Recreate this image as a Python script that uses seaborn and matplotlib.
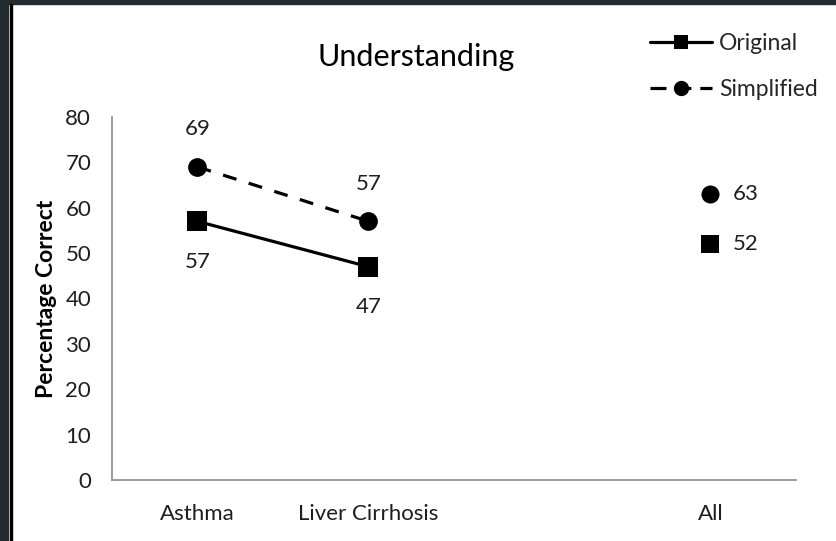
import matplotlib
matplotlib.use("Agg")
import matplotlib.pyplot as plt
from matplotlib.patches import Rectangle
from matplotlib.lines import Line2D
import numpy as np
import pandas as pd
import seaborn as sns

# Categories on the horizontal axis (third slot is an empty spacer)
categories = ["Asthma", "Liver Cirrhosis", "", "All"]
original = [57, 47, np.nan, 52]
simplified = [69, 57, np.nan, 63]
series_names = ["Original", "Simplified"]
y_ticks = [0, 10, 20, 30, 40, 50, 60, 70, 80]

rows = []
for name, vals in zip(series_names, [original, simplified]):
    for i, (cat, v) in enumerate(zip(categories, vals)):
        if not np.isnan(v):
            rows.append({"series": name, "category": cat, "pos": i, "value": v,
                         "group": "overall" if cat == "All" else "disease"})
df = pd.DataFrame(rows)

sns.set_theme(style="white")
plt.rcParams["font.family"] = ["Lato", "DejaVu Sans"]

fig = plt.figure(figsize=(8.37, 5.41), dpi=100)
ax = fig.add_axes([112 / 837, 61 / 541, 684 / 837, 363 / 541])

markers = {"Original": "s", "Simplified": "o"}
linestyles = {"Original": "-", "Simplified": (0, (4.4, 4.0))}
msize = {"Original": 14, "Simplified": 13.5}
text_color = "#1e1e1e"

disease = df[df["group"] == "disease"]
for name in series_names:
    sub = disease[disease["series"] == name]
    sns.lineplot(data=sub, x="pos", y="value", ax=ax, color="black",
                 linewidth=2.3, marker=markers[name], markersize=msize[name],
                 markeredgewidth=0, dashes=False, legend=False,
                 linestyle=linestyles[name])

overall = df[df["group"] == "overall"]
for name in series_names:
    sub = overall[overall["series"] == name]
    sns.scatterplot(data=sub, x="pos", y="value", ax=ax, color="black",
                    marker=markers[name], s=(msize[name] - 0.5) ** 2,
                    linewidth=0, legend=False)

# Value labels: overall values to the right, simplified above, original below
label_fs = 16
for _, r in df.iterrows():
    txt = f"{r['value']:.0f}"
    if r["group"] == "overall":
        ax.annotate(txt, (r["pos"], r["value"]), xytext=(16, 0),
                    textcoords="offset points", ha="left", va="center",
                    fontsize=label_fs, color=text_color)
    elif r["series"] == "Simplified":
        ax.annotate(txt, (r["pos"], r["value"]), xytext=(0, 27),
                    textcoords="offset points", ha="center", va="center",
                    fontsize=label_fs, color=text_color)
    else:
        ax.annotate(txt, (r["pos"], r["value"]), xytext=(0, -29),
                    textcoords="offset points", ha="center", va="center",
                    fontsize=label_fs, color=text_color)

ax.set_xlim(-0.5, len(categories) - 0.5)
ax.set_ylim(0, 80)
ax.set_yticks(y_ticks)
ax.set_xticks(range(len(categories)))
ax.set_xticklabels(categories)
ax.tick_params(axis="both", length=0, labelsize=16, colors=text_color)
ax.tick_params(axis="y", pad=15)
ax.tick_params(axis="x", pad=17)
ax.set_xlabel("")
ax.set_ylabel("Percentage Correct", fontsize=16.5, fontweight="bold", color="black")
ax.yaxis.set_label_coords(-0.081, 0.5)

for side in ["top", "right"]:
    ax.spines[side].set_visible(False)
for side in ["left", "bottom"]:
    ax.spines[side].set_color("#8a8a8a")
    ax.spines[side].set_linewidth(1.2)

fig.text(416 / 837, 1 - 57 / 541, "Understanding", ha="center", va="center",
         fontsize=22, color="black")

handles = [
    Line2D([], [], color="black", linewidth=2.3, marker="s", markersize=10,
           markeredgewidth=0),
    Line2D([], [], color="black", linewidth=2.3, marker="o", markersize=11,
           markeredgewidth=0, dashes=(5.0, 2.8)),
]
fig.legend(handles, series_names, loc="upper left",
           bbox_to_anchor=(650 / 837, 1 - 33 / 541), frameon=False,
           fontsize=16.5, handlelength=2.7, handletextpad=0.3,
           labelspacing=1.1, borderpad=0, borderaxespad=0)

# Window frame around the chart
fig.patches.append(Rectangle((0, 1 - 4 / 541), 1, 4 / 541, transform=fig.transFigure,
                             color="#232b31", zorder=10))
fig.patches.append(Rectangle((0, 0), 8 / 837, 1, transform=fig.transFigure,
                             color="#232b31", zorder=10))
fig.patches.append(Rectangle((10 / 837, 0), 1.6 / 837, 1 - 4 / 541,
                             transform=fig.transFigure, color="black", zorder=10))

fig.savefig("out.png", dpi=100)
